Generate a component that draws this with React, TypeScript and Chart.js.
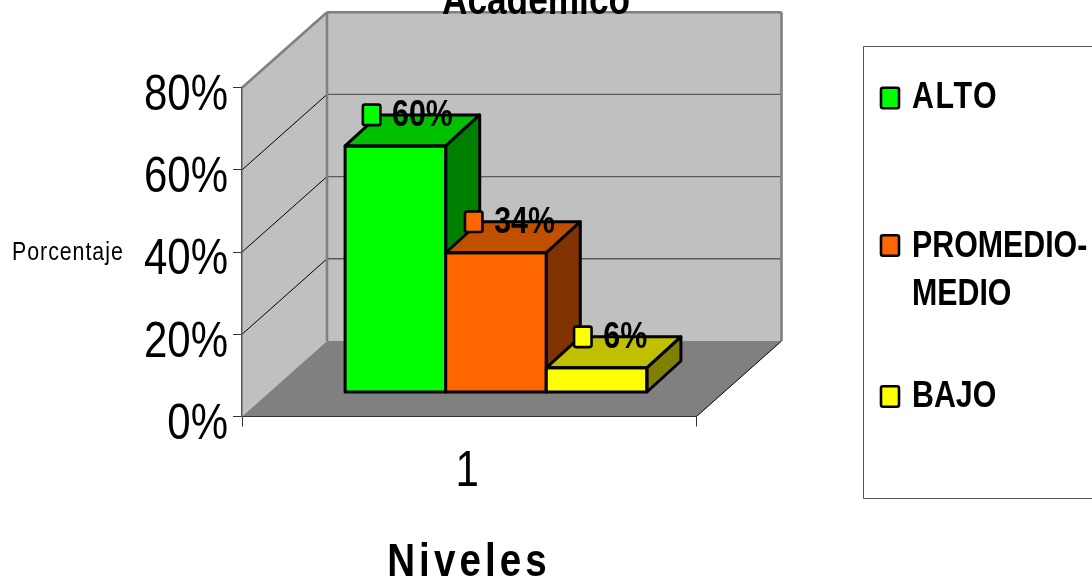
import React, { useEffect, useRef } from "react";
import { Chart, registerables } from "chart.js";

Chart.register(...registerables);

const categories = ["1"];
const seriesNames = ["ALTO", "PROMEDIO-MEDIO", "BAJO"];
const seriesValues = [60, 34, 6];
const frontColors = ["#00FF00", "#FF6600", "#FFFF00"];
const topColors = ["#00C000", "#C05000", "#C0C000"];
const sideColors = ["#008000", "#803300", "#808000"];
const FONT = '"Liberation Sans", Arial, sans-serif';

const DEPTH_X = 85, DEPTH_Y = -75.5;
const BAR_SHIFT_X = 26.75, BAR_SHIFT_Y = -24;
const BAR_DX = 34, BAR_DY = -31;
const MARKER_X = [26.5, 28, 36.5];
const NARROW = 0.82;
const TICK_NARROW = 0.84;

function text(ctx: any, s: string, x: number, y: number, font: string, spacing = 0, align = "left") {
  ctx.save();
  ctx.translate(x, y);
  ctx.scale(NARROW, 1);
  ctx.font = font;
  ctx.fillStyle = "#000";
  ctx.textAlign = align;
  ctx.textBaseline = "alphabetic";
  ctx.letterSpacing = spacing + "px";
  ctx.fillText(s, 0, 0);
  ctx.restore();
}

function poly(ctx: any, pts: number[][], fill?: string, stroke?: string, lw = 1) {
  ctx.beginPath();
  pts.forEach((p, i) => (i ? ctx.lineTo(p[0], p[1]) : ctx.moveTo(p[0], p[1])));
  ctx.closePath();
  if (fill) { ctx.fillStyle = fill; ctx.fill(); }
  if (stroke) { ctx.strokeStyle = stroke; ctx.lineWidth = lw; ctx.lineJoin = "round"; ctx.stroke(); }
}

function line(ctx: any, a: number[], b: number[], color: string, lw: number) {
  ctx.beginPath();
  ctx.moveTo(a[0], a[1]);
  ctx.lineTo(b[0], b[1]);
  ctx.strokeStyle = color;
  ctx.lineWidth = lw;
  ctx.stroke();
}

function swatch(ctx: any, cx: number, cy: number, w: number, h: number, color: string) {
  ctx.beginPath();
  ctx.roundRect(cx - w / 2, cy - h / 2, w, h, 2);
  ctx.fillStyle = color;
  ctx.fill();
  ctx.strokeStyle = "#000";
  ctx.lineWidth = 2.6;
  ctx.stroke();
}

// The reference's tick labels are horizontally condensed: squeeze the scale's own labels.
function condenseLabels(scale: any, originX: number) {
  if (scale.__condensed) return;
  scale.__condensed = true;
  const original = scale.drawLabels.bind(scale);
  scale.drawLabels = (area: any) => {
    const ctx = scale.ctx;
    ctx.save();
    ctx.translate(originX, 0);
    ctx.scale(TICK_NARROW, 1);
    ctx.translate(-originX, 0);
    original(area);
    ctx.restore();
  };
}

const scene3d = {
  id: "scene3d",
  beforeDraw(chart: any) {
    const { ctx, chartArea: a, scales } = chart;
    condenseLabels(scales.y, 228);
    condenseLabels(scales.x, 467);
    const L = a.left, R = a.right, T = a.top, B = a.bottom;
    ctx.save();
    // walls and floor
    poly(ctx, [[L + DEPTH_X, T + DEPTH_Y], [R + DEPTH_X, T + DEPTH_Y], [R + DEPTH_X, B + DEPTH_Y], [L + DEPTH_X, B + DEPTH_Y]], "#C0C0C0");
    poly(ctx, [[L, T], [L + DEPTH_X, T + DEPTH_Y], [L + DEPTH_X, B + DEPTH_Y], [L, B]], "#C0C0C0");
    poly(ctx, [[L, B], [R, B], [R + DEPTH_X, B + DEPTH_Y], [L + DEPTH_X, B + DEPTH_Y]], "#808080");
    // gridlines
    scales.y.ticks.forEach((t: any) => {
      const y = scales.y.getPixelForValue(t.value);
      if (t.value > 0 && t.value < 80) {
        line(ctx, [L, y], [L + DEPTH_X, y + DEPTH_Y], "#000", 1);
        line(ctx, [L + DEPTH_X, y + DEPTH_Y], [R + DEPTH_X, y + DEPTH_Y], "#5a5a5a", 1.4);
      }
    });
    // wall edges
    line(ctx, [L, T], [L + DEPTH_X, T + DEPTH_Y], "#808080", 2.6);
    line(ctx, [L + DEPTH_X, T + DEPTH_Y], [R + DEPTH_X, T + DEPTH_Y], "#808080", 2.6);
    line(ctx, [L + DEPTH_X, T + DEPTH_Y], [L + DEPTH_X, B + DEPTH_Y], "#808080", 2.6);
    line(ctx, [R + DEPTH_X, T + DEPTH_Y], [R + DEPTH_X, B + DEPTH_Y], "#808080", 2.6);
    line(ctx, [R, B], [R + DEPTH_X, B + DEPTH_Y], "#000", 1);
    ctx.restore();
  },
  beforeDatasetDraw() {
    return false;
  },
  afterDatasetsDraw(chart: any) {
    const { ctx } = chart;
    const tops: any[] = [];
    chart.data.datasets.forEach((_: any, i: number) => {
      const meta = chart.getDatasetMeta(i);
      ctx.save();
      ctx.translate(BAR_SHIFT_X, BAR_SHIFT_Y);
      meta.controller.draw();
      ctx.restore();
      const el = meta.data[0];
      const l = el.x - el.width / 2 + BAR_SHIFT_X;
      const r = el.x + el.width / 2 + BAR_SHIFT_X;
      const t = el.y + BAR_SHIFT_Y;
      const b = el.base + BAR_SHIFT_Y;
      ctx.save();
      poly(ctx, [[l, t], [l + BAR_DX, t + BAR_DY], [r + BAR_DX, t + BAR_DY], [r, t]], topColors[i], "#000", 3);
      poly(ctx, [[r, t], [r + BAR_DX, t + BAR_DY], [r + BAR_DX, b + BAR_DY], [r, b]], sideColors[i], "#000", 3);
      poly(ctx, [[l, t], [r, t], [r, b], [l, b]], undefined, "#000", 3);
      ctx.restore();
      tops.push({ l, y: t + BAR_DY });
    });
    // data labels with their legend keys
    tops.forEach((p, i) => {
      const cx = p.l + MARKER_X[i];
      swatch(ctx, cx, p.y, 17.5, 20.5, frontColors[i]);
      text(ctx, seriesValues[i] + "%", cx + 20.5, p.y + 11.5, `bold 37px ${FONT}`);
    });
  },
  afterDraw(chart: any) {
    const { ctx } = chart;
    text(ctx, "Académico", 536, 14, `bold 43px ${FONT}`, 0, "center");
    text(ctx, "Porcentaje", 12, 260, `26px ${FONT}`, 1.2);
    text(ctx, "Niveles", 469, 576, `bold 47px ${FONT}`, 5, "center");

    // legend
    ctx.save();
    ctx.strokeStyle = "#555";
    ctx.lineWidth = 1;
    ctx.fillStyle = "#fff";
    ctx.beginPath();
    ctx.rect(863.5, 46.5, 240, 452);
    ctx.fill();
    ctx.stroke();
    ctx.restore();
    const legendFont = `bold 37px ${FONT}`;
    swatch(ctx, 890, 98, 18, 20.5, frontColors[0]);
    text(ctx, seriesNames[0], 912, 108, legendFont, 2);
    swatch(ctx, 890, 245.5, 18, 20.5, frontColors[1]);
    const [first, second] = seriesNames[1].split("-");
    text(ctx, first + "-", 912, 257, legendFont);
    text(ctx, second, 912, 305, legendFont);
    swatch(ctx, 890, 396.5, 18, 20.5, frontColors[2]);
    text(ctx, seriesNames[2], 912, 407, legendFont);
  },
};

export default function App() {
  const ref = useRef<HTMLCanvasElement | null>(null);
  useEffect(() => {
    const chart = new Chart(ref.current as HTMLCanvasElement, {
      type: "bar",
      data: {
        labels: categories,
        datasets: seriesNames.map((name, i) => ({
          label: name,
          data: [seriesValues[i]],
          backgroundColor: frontColors[i],
          borderWidth: 0,
        })),
      },
      options: {
        responsive: false,
        animation: false,
        layout: { padding: { top: 87.7, right: 395.5, left: 0, bottom: 0 } },
        plugins: { legend: { display: false }, title: { display: false }, tooltip: { enabled: false } },
        datasets: { bar: { barPercentage: 1, categoryPercentage: 0.664 } },
        scales: {
          x: {
            afterFit: (s: any) => { s.height = 162.5; },
            grid: { drawOnChartArea: false, tickLength: 10, color: "#333", lineWidth: 1 },
            border: { color: "#333", width: 1 },
            ticks: { color: "#000", font: { family: FONT, size: 50 }, padding: 16, labelOffset: -2 },
          },
          y: {
            min: 0,
            max: 80,
            afterFit: (s: any) => { s.width = 242; },
            grid: { drawOnChartArea: false, tickLength: 9, color: "#333", lineWidth: 1 },
            border: { color: "#555", width: 1.5 },
            ticks: {
              stepSize: 20,
              color: "#000",
              font: { family: FONT, size: 50 },
              padding: 5,
              labelOffset: 8.5,
              callback: (v: any) => v + "%",
            },
          },
        },
      },
      plugins: [scene3d],
    } as any);
    return () => chart.destroy();
  }, []);
  return (
    <div style={{ position: "fixed", left: 0, top: 0, width: 1092, height: 579, background: "#fff" }}>
      <canvas ref={ref} width={1092} height={579} style={{ display: "block" }} />
    </div>
  );
}
